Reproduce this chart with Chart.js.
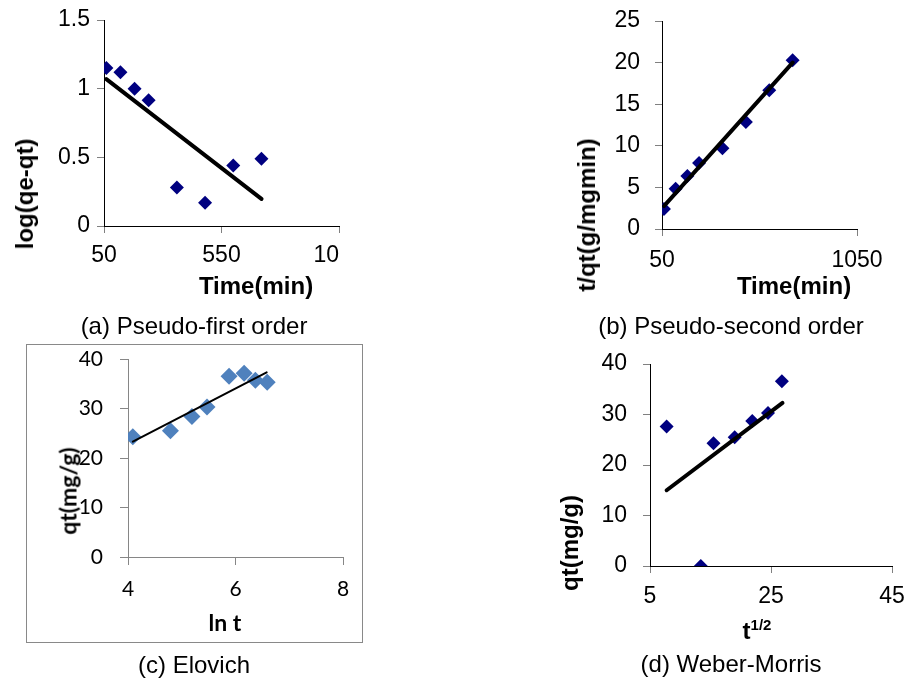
<!DOCTYPE html>
<html>
<head>
<meta charset="utf-8">
<script src="https://cdn.jsdelivr.net/npm/chart.js@4.4.1/dist/chart.umd.min.js"></script>
<style>
  body { margin: 0; background: #fff; width: 907px; height: 679px; position: relative; overflow: hidden;
         font-family: "Liberation Sans", Arial, sans-serif; color: #000; }
  .wrap { position: absolute; overflow: hidden; }
  canvas { position: absolute; }
  .lbl { position: absolute; white-space: nowrap; line-height: 1; transform: translate(-50%, -50%); }
  .rot { transform: translate(-50%, -50%) rotate(-90deg); }
  .b { font-weight: bold; font-size: 24px; }
  .cap { font-size: 24px; }
  .cal { font-family: Lato, "Open Sans", sans-serif; font-size: 23px; font-weight: bold; }
  #frameC { position: absolute; left: 26px; top: 344px; width: 337px; height: 299px;
            border: 1px solid #898989; box-sizing: border-box; }
</style>
</head>
<body>

<div class="wrap" style="left:0;top:0;width:340px;height:310px;">
  <canvas id="chartA" width="400" height="300" style="left:0;top:0;"></canvas>
</div>
<canvas id="chartB" width="467" height="300" style="left:440px;top:0;"></canvas>
<div id="frameC"></div>
<canvas id="chartC" width="336" height="298" style="left:27px;top:345px;"></canvas>
<canvas id="chartD" width="467" height="320" style="left:440px;top:330px;"></canvas>

<!-- axis titles and captions -->
<div class="lbl b rot" style="left:25px;top:194px;">log(qe-qt)</div>
<div class="lbl b" style="left:256px;top:286px;">Time(min)</div>
<div class="lbl cap" style="left:194px;top:326px;">(a) Pseudo-first order</div>

<div class="lbl b rot" style="left:587px;top:215px;">t/qt(g/mgmin)</div>
<div class="lbl b" style="left:794px;top:286px;">Time(min)</div>
<div class="lbl cap" style="left:731px;top:326px;">(b) Pseudo-second order</div>

<div class="lbl cal rot" style="left:68px;top:491px;">qt(mg/g)</div>
<div class="lbl cal" style="left:225px;top:622px;">ln t</div>
<div class="lbl cap" style="left:194px;top:665px;">(c) Elovich</div>

<div class="lbl b rot" style="left:570px;top:543px;">qt(mg/g)</div>
<div class="lbl b" style="left:757px;top:630px;">t<sup style="font-size:15px;vertical-align:9px;">1/2</sup></div>
<div class="lbl cap" style="left:731px;top:664px;">(d) Weber-Morris</div>

<script>
// kinetic data
const times = [60, 120, 180, 240, 360, 480, 600, 720];
const logQeQt = [1.15, 1.12, 1.0, 0.915, 0.28, 0.17, 0.44, 0.49];
const tOverQt = [2.4, 4.83, 6.38, 7.94, 9.7, 12.85, 16.68, 20.27];
const lnT = [4.09, 4.79, 5.19, 5.47, 5.88, 6.16, 6.37, 6.59];
const qtElovich = [24.3, 25.5, 28.4, 30.3, 36.5, 37.1, 35.7, 35.3];
const sqrtT = [7.75, 13.4, 15.5, 19.0, 21.9, 24.5, 26.8];
const qtWM = [27.6, 0, 24.3, 25.5, 28.7, 30.3, 36.6];

// fitted lines (end points)
const fitA_x = [60, 720], fitA_y = [1.07, 0.197];
const fitB_x = [60, 720], fitB_y = [2.75, 20.0];
const fitC_x = [4.09, 6.58], fitC_y = [23.3, 37.3];
const fitD_x = [7.75, 26.9], fitD_y = [15.0, 32.3];

// tick values
const ticksA_x = [50, 550, 1050];
const ticksA_y = [0, 0.5, 1, 1.5];
const ticksB_x = [50, 1050];
const ticksB_y = [0, 5, 10, 15, 20, 25];
const ticksC_x = [4, 6, 8];
const ticksC_y = [0, 10, 20, 30, 40];
const ticksD_x = [5, 25, 45];
const ticksD_y = [0, 10, 20, 30, 40];

const pts = (xs, ys) => xs.map((x, i) => ({x: x, y: ys[i]}));

const arialFont = {family: "'Liberation Sans', Arial, sans-serif", size: 23};
const lato = {family: "Lato, 'Open Sans', sans-serif", size: 21};

function axis(min, max, tickVals, o) {
  return {
    type: 'linear',
    min: min,
    max: max,
    afterBuildTicks: s => { s.ticks = tickVals.map(v => ({value: v})); },
    afterFit: s => {
      if (s.isHorizontal()) s.height = o.size; else s.width = o.size;
      // plot area is set by layout padding only
      s.paddingTop = s.paddingBottom = s.paddingLeft = s.paddingRight = 0;
    },
    border: {display: true, color: o.line, width: 1},
    grid: {display: true, drawOnChartArea: false, drawTicks: true, tickLength: o.tick,
           tickColor: o.tickColor, tickWidth: 1},
    ticks: {padding: o.pad, color: '#000', font: o.font, maxRotation: 0, autoSkip: false,
            callback: v => String(v)}
  };
}

function panel(id, scatter, fit, s) {
  new Chart(document.getElementById(id), {
    type: 'scatter',
    data: {
      datasets: [
        {
          data: fit,
          showLine: true,
          borderColor: '#000',
          borderWidth: s.fitWidth,
          borderCapStyle: 'round',
          pointRadius: 0,
          order: 0
        },
        {
          data: scatter,
          pointStyle: 'rectRot',
          pointRadius: s.marker,
          backgroundColor: s.color,
          borderColor: s.color,
          borderWidth: 0,
          order: 1
        }
      ]
    },
    options: {
      responsive: false,
      animation: false,
      devicePixelRatio: 1,
      layout: {padding: s.padding, autoPadding: false},
      plugins: {legend: {display: false}, tooltip: {enabled: false}},
      scales: {x: s.x, y: s.y}
    }
  });
}

const plain = {line: '#000', tickColor: '#808080', tick: 7, font: arialFont};

panel('chartA', pts(times, logQeQt), pts(fitA_x, fitA_y), {
  color: '#000080', marker: 7, fitWidth: 4,
  padding: {left: 24, right: 61, top: 20, bottom: 34},
  x: axis(50, 1050, ticksA_x, {...plain, size: 40, pad: 9}),
  y: axis(0, 1.5, ticksA_y, {...plain, size: 80, pad: 7})
});

panel('chartB', pts(times, tOverQt), pts(fitB_x, fitB_y), {
  color: '#000080', marker: 7, fitWidth: 4,
  padding: {left: 142, right: 50, top: 21, bottom: 31},
  x: axis(50, 1050, ticksB_x, {...plain, size: 40, pad: 11}),
  y: axis(0, 25, ticksB_y, {...plain, size: 80, pad: 15})
});

const grey = {line: '#868686', tickColor: '#868686', tick: 8, font: lato};

panel('chartC', pts(lnT, qtElovich), pts(fitC_x, fitC_y), {
  color: '#4F81BD', marker: 8.5, fitWidth: 2,
  padding: {left: 21, right: 20, top: 14, bottom: 36},
  x: axis(4, 8, ticksC_x, {...grey, size: 50, pad: 12}),
  y: axis(0, 40, ticksC_y, {...grey, size: 80, pad: 17})
});

panel('chartD', pts(sqrtT, qtWM), pts(fitD_x, fitD_y), {
  color: '#000080', marker: 7, fitWidth: 4,
  padding: {left: 130, right: 15, top: 34, bottom: 44},
  x: axis(5, 45, ticksD_x, {...plain, size: 40, pad: 10}),
  y: axis(0, 40, ticksD_y, {...plain, size: 80, pad: 16})
});
</script>
</body>
</html>
